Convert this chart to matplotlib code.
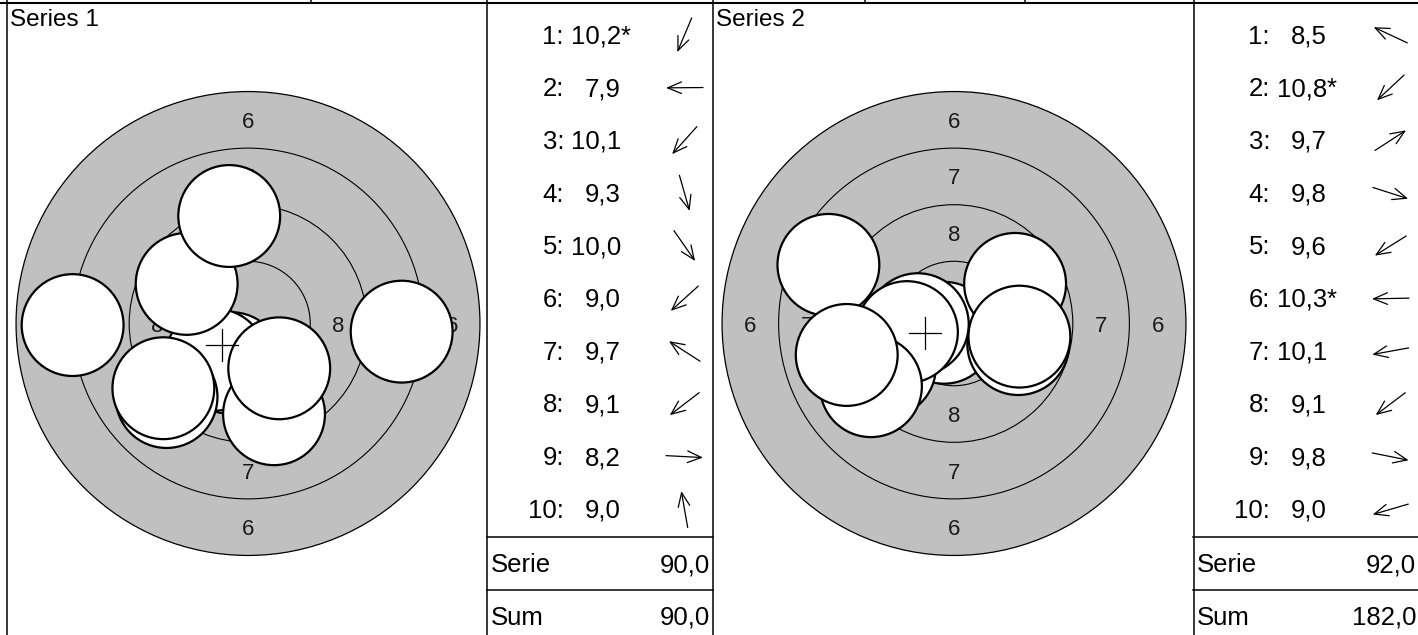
import numpy as np
import matplotlib
matplotlib.use("Agg")
import matplotlib.pyplot as plt
from matplotlib.patches import Circle

plt.rcParams["font.family"] = ["Liberation Sans", "DejaVu Sans"]

W, H = 1418, 635
PX_MM = 22.63          # pixels per mm on the target

# --- data ---
series_names = ["Series 1", "Series 2"]

scores_1 = [10.2, 7.9, 10.1, 9.3, 10.0, 9.0, 9.7, 9.1, 8.2, 9.0]
inner_1 = [True, False, False, False, False, False, False, False, False, False]
shot_x_1 = [-0.74, -7.75, -1.44, 1.15, 1.38, -3.60, -2.71, -3.74, 6.79, -0.83]
shot_y_1 = [-1.75, -0.07, -1.60, -4.01, -1.98, -3.25, 1.75, -2.86, -0.36, 4.75]

scores_2 = [8.5, 10.8, 9.7, 9.8, 9.6, 10.3, 10.1, 9.1, 9.8, 9.0]
inner_2 = [False, True, False, False, False, True, False, False, False, False]
shot_x_2 = [-5.55, -0.44, 2.70, 2.84, -3.05, -1.60, -2.08, -3.67, 2.89, -4.74]
shot_y_2 = [2.59, -0.41, 1.75, -0.91, -1.91, -0.03, -0.38, -2.77, -0.58, -1.39]

ring_radii = [10.25, 7.75, 5.25, 2.75, 0.25]   # mm, ring 6 .. ring 10
ring_labels = ["6", "7", "8"]
label_radii = [9.0, 6.5, 4.0]
pellet_r = 2.25

series = [
    (scores_1, inner_1, shot_x_1, shot_y_1),
    (scores_2, inner_2, shot_x_2, shot_y_2),
]

# --- layout (pixels) ---
panel_x = [7, 713]
target_w = 480
panel_w = 706
center_off = 241
center_y = 323.5
row_y0 = 35.0
row_step = 52.7
FS = 18.5


def fmt(v):
    return f"{v:.1f}".replace(".", ",")


def px_box(x0, y0, x1, y1):
    return [x0 / W, 1 - y1 / H, (x1 - x0) / W, (y1 - y0) / H]


fig = plt.figure(figsize=(W / 100, H / 100), dpi=100)

# overlay in pixel units for frame, table and arrows
ov = fig.add_axes([0, 0, 1, 1], zorder=5)
ov.set_xlim(0, W)
ov.set_ylim(H, 0)
ov.axis("off")
ov.patch.set_alpha(0)

# frame
ov.plot([0, W], [3, 3], color="black", lw=1.5, solid_capstyle="butt")
for x in [7, 487, 713, 1194]:
    ov.plot([x, x], [0, H], color="black", lw=1.1)
for x in [311, 865, 1025]:
    ov.plot([x, x], [0, 3], color="black", lw=1.1)

total = 0
for p, (scores, inner, sx, sy) in enumerate(series):
    ox = panel_x[p]
    cx = ox + center_off
    tl = ox + target_w
    tr = ox + panel_w

    # ---- target ----
    ax = fig.add_axes(px_box(ox, 3, tl, H), zorder=1)
    ax.set_xlim((ox - cx) / PX_MM, (tl - cx) / PX_MM)
    ax.set_ylim(-(H - center_y) / PX_MM, (center_y - 3) / PX_MM)
    ax.axis("off")

    ax.add_patch(Circle((0, 0), ring_radii[0], facecolor="#c0c0c0",
                        edgecolor="black", lw=0.9, zorder=1))
    for r in ring_radii[1:]:
        ax.add_patch(Circle((0, 0), r, facecolor="none",
                            edgecolor="black", lw=0.8, zorder=2))
    for lab, r in zip(ring_labels, label_radii):
        for dx, dy in [(0, r), (0, -r), (r, 0), (-r, 0)]:
            ax.text(dx, dy - 8 / PX_MM, lab, ha="center", va="baseline",
                    fontsize=16, color="#1a1a1a", zorder=3)

    for i in range(len(scores)):
        ax.add_patch(Circle((sx[i], sy[i]), pellet_r, facecolor="white",
                            edgecolor="black", lw=1.6, zorder=10 + i))

    mx, my = np.mean(sx), np.mean(sy)
    h = 16 / PX_MM
    ax.plot([mx - h, mx + h], [my, my], color="black", lw=0.9, zorder=40)
    ax.plot([mx, mx], [my - h, my + h], color="black", lw=0.9, zorder=40)

    ov.text(ox + 3, 26.5, series_names[p], ha="left", va="baseline", fontsize=17.5)

    # ---- table ----
    for i, v in enumerate(scores):
        yc = row_y0 + row_step * i
        yb = yc + 8.5
        ov.text(tl + 77, yb, f"{i + 1}:", ha="right", va="baseline", fontsize=FS)
        ov.text(tl + 134, yb, fmt(v), ha="right", va="baseline", fontsize=FS)
        if inner[i]:
            ov.text(tl + 134, yb, "*", ha="left", va="baseline", fontsize=FS)
        a = np.arctan2(sy[i], sx[i])
        ux, uy = np.cos(a), -np.sin(a)
        ax_c = tl + 197.5
        L = 18.5
        ov.annotate("", xy=(ax_c + L * ux, yc + L * uy),
                    xytext=(ax_c - L * ux, yc - L * uy),
                    arrowprops=dict(arrowstyle="->,head_length=1.0,head_width=0.42",
                                    lw=0.9, color="black", shrinkA=0, shrinkB=0,
                                    mutation_scale=10))

    serie = int(sum(np.floor(np.array(scores) + 1e-9)))
    total += serie
    ov.plot([tl, tr], [537, 537], color="black", lw=1.1)
    ov.plot([tl, tr], [590, 590], color="black", lw=1.1)
    ov.text(tl + 4, 572, "Serie", ha="left", va="baseline", fontsize=FS)
    ov.text(tr - 3, 572, fmt(serie), ha="right", va="baseline", fontsize=FS)
    ov.text(tl + 4, 625, "Sum", ha="left", va="baseline", fontsize=FS)
    ov.text(tr - 3, 625, fmt(total), ha="right", va="baseline", fontsize=FS)

fig.savefig("out.png", dpi=100)
